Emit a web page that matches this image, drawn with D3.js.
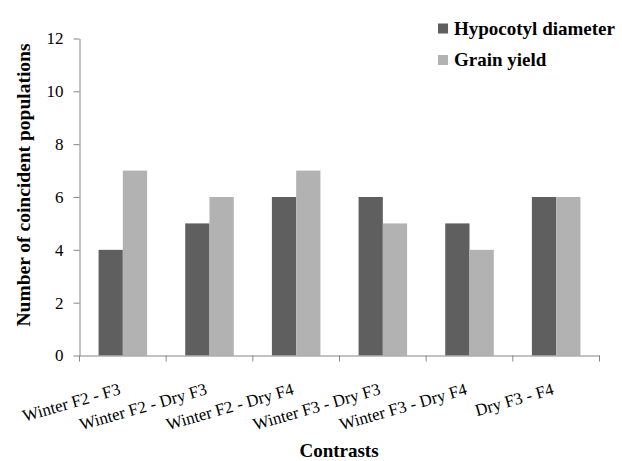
<!DOCTYPE html>
<html><head><meta charset="utf-8">
<script src="https://cdn.jsdelivr.net/npm/d3@7"></script>
<style>body{margin:0;background:#fff}svg{display:block}</style>
</head><body><svg id="c" width="622" height="461"></svg>
<script>
const categories = ["Winter F2 - F3","Winter F2 - Dry F3","Winter F2 - Dry F4","Winter F3 - Dry F3","Winter F3 - Dry F4","Dry F3 - F4"];
const seriesNames = ["Hypocotyl diameter","Grain yield"];
const hypocotyl = [4,5,6,6,5,6];
const grainYield = [7,6,7,5,4,6];
const yTicks = [0,2,4,6,8,10,12];
const colors = ["#5f5f5f","#b2b2b2"];

const FF = '"Liberation Serif"';
const svg = d3.select("#c");
const x0 = d3.scaleBand().domain(categories).range([79.5,599.5]).paddingInner(0).paddingOuter(0);
const y = d3.scaleLinear().domain([0,12]).range([355.5,38.5]);
const barW = x0.bandwidth()*0.28;

// y axis
const ya = svg.append("g").attr("transform","translate(79.5,0)").call(d3.axisLeft(y).tickValues(yTicks).tickSize(6).tickSizeOuter(0).tickPadding(10));
ya.attr("font-family",null);
ya.selectAll("path,line").attr("stroke","#868686");
ya.selectAll("text").style("font-family",FF).style("font-size","17px").attr("fill","#000");

// bars
const data = categories.map((c,i)=>({c, vals:[hypocotyl[i],grainYield[i]]}));
const g = svg.append("g");
data.forEach(d=>{
  const cx = x0(d.c)+x0.bandwidth()/2;
  d.vals.forEach((v,j)=>{
    g.append("rect").attr("x",cx-barW+j*barW).attr("width",barW)
      .attr("y",y(v)).attr("height",y(0)-y(v)).attr("fill",colors[j]);
  });
});

// x axis
const xa = svg.append("g").attr("transform","translate(0,355.5)").call(d3.axisBottom(x0).tickSize(0).tickSizeOuter(0));
xa.select("path").attr("stroke","#868686");
xa.selectAll("text").remove();
const tickPos = categories.map(c=>x0(c)).concat([x0.range()[1]]);
svg.append("g").selectAll("line").data(tickPos).join("line")
  .attr("x1",d=>d).attr("x2",d=>d).attr("y1",355.5).attr("y2",361.5).attr("stroke","#868686");
svg.append("g").selectAll("text").data(categories).join("text")
  .attr("transform",d=>`translate(${x0(d)+x0.bandwidth()/2-1.5},${394}) rotate(-16)`)
  .attr("text-anchor","end").style("font-family",FF).style("font-size","17px").attr("fill","#000")
  .text(d=>d);

// titles
svg.append("text").attr("transform","translate(30,185) rotate(-90)").attr("text-anchor","middle")
  .style("font-family",FF).style("font-size","19.5px").style("font-weight","bold").text("Number of coincident populations");
svg.append("text").attr("x",339).attr("y",457).attr("text-anchor","middle")
  .style("font-family",FF).style("font-size","19px").style("font-weight","bold").text("Contrasts");

// legend
const lg = svg.append("g");
seriesNames.forEach((n,i)=>{
  lg.append("rect").attr("x",438).attr("y",23.5+i*31.5).attr("width",10).attr("height",10).attr("fill",colors[i]);
  lg.append("text").attr("x",454).attr("y",34.5+i*31.5).style("font-family",FF).style("font-size","19px")
    .style("font-weight","bold").text(n);
});
</script></body></html>
